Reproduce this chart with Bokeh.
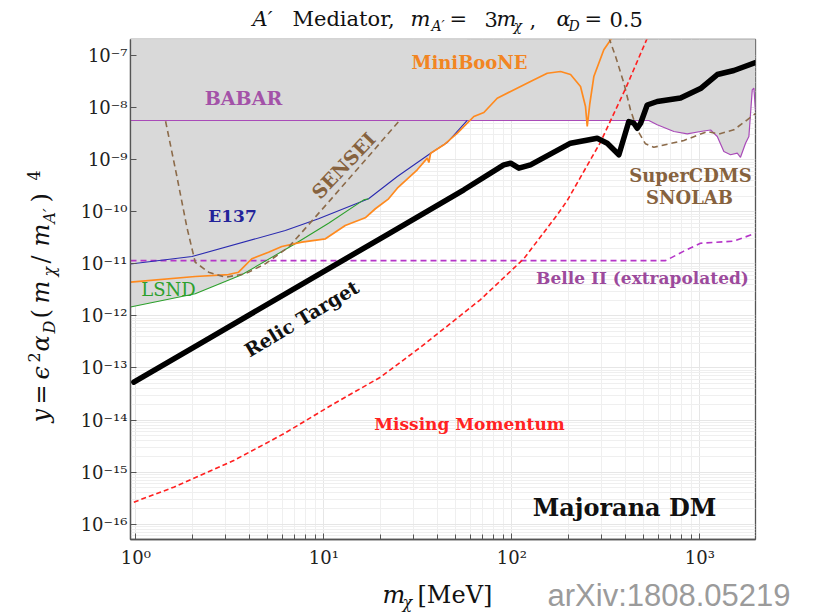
from bokeh.plotting import figure
from bokeh.models import FixedTicker, CustomJSTickFormatter, Label, Range1d
from bokeh.embed import file_html
from bokeh.resources import INLINE

# ---------------- data (m_chi in MeV, y) ----------------
relic_x = [0.976, 2.34, 22.1, 55.6, 90.6, 98.5, 109.0, 125.7, 205.3, 284.5, 321.6, 371.0,
           419.0, 445.6, 464.5, 484.1, 524.8, 593.3, 789.3, 1008, 1238, 1517, 1977]
relic_y = [5.32e-14, 3.36e-13, 3.77e-11, 2.64e-10, 7.96e-10, 8.55e-10, 6.85e-10, 7.96e-10,
           2.07e-9, 2.58e-9, 2.07e-9, 1.24e-9, 5.40e-9, 5.01e-9, 4.01e-9, 5.01e-9, 1.12e-8,
           1.31e-8, 1.53e-8, 2.32e-8, 4.31e-8, 5.15e-8, 7.34e-8]

missing_x = [0.976, 1.59, 3.32, 6.12, 11.3, 20.0, 32.7, 53.4, 68.2, 115.8, 174.3, 197.1,
             296.4, 402.7, 527]
missing_y = [2.64e-16, 5.12e-16, 1.67e-15, 5.43e-15, 2.05e-14, 6.64e-14, 2.50e-13, 1.02e-12,
             2.06e-12, 1.25e-11, 8.7e-11, 1.64e-10, 2.18e-9, 2.32e-8, 2.22e-7]

babar_x = [0.937, 535.6, 593.3, 727.8, 857.4, 1008, 1141, 1238, 1342, 1456, 1581, 1645,
           1750, 1823, 1900, 1938, 1977]
babar_y = [5.65e-9, 5.65e-9, 4.67e-9, 3.47e-9, 3.13e-9, 3.47e-9, 3.71e-9, 2.78e-9, 1.43e-9,
           1.24e-9, 1.33e-9, 1.11e-9, 2.07e-9, 2.78e-9, 2.19e-8, 2.36e-8, 8.8e-9]

e137_x = [0.937, 1.99, 6.24, 9.37, 17.3, 24.6, 37.0, 45.3, 57.9]
e137_y = [9.9e-12, 1.38e-11, 4.36e-11, 7.31e-11, 1.77e-10, 4.75e-10, 1.33e-9, 2.13e-9, 5.65e-9]

lsnd_x = [0.937, 2.07, 3.66, 7.04, 10.6, 16.3, 17.3]
lsnd_y = [1.48e-12, 2.65e-12, 6.14e-12, 2.42e-11, 6.02e-11, 1.69e-10, 1.77e-10]

miniboone_x = [0.937, 2.07, 3.11, 3.52, 4.14, 5.08, 5.98, 7.64, 10.2, 13.0, 16.6, 18.8, 22.1,
               24.6, 31.4, 35.5, 36.2, 37.0, 43.5, 51.3, 62.8, 71.0, 83.6, 98.5, 125.7, 154.3,
               181.6, 205.3, 231.9, 246.5, 251.8, 260.0, 273.0, 308.5, 345.0]
miniboone_y = [4.43e-12, 5.70e-12, 6.22e-12, 6.89e-12, 1.25e-11, 1.67e-11, 2.15e-11, 2.60e-11,
               3.02e-11, 5.43e-11, 7.64e-11, 1.14e-10, 1.77e-10, 2.83e-10, 6.38e-10, 1.07e-9,
               8.8e-10, 1.33e-9, 1.93e-9, 3.22e-9, 6.74e-9, 8.04e-9, 1.51e-8, 2.04e-8, 3.17e-8,
               4.57e-8, 4.93e-8, 4.31e-8, 2.54e-8, 1.05e-8, 4.33e-9, 1.21e-8, 3.95e-8, 1.29e-7,
               2.32e-7]

sensei_x = [1.44, 1.65, 1.87, 2.07, 2.44, 2.99, 3.82, 4.88, 6.49, 7.52, 10.85, 17.0, 25.0]
sensei_y = [5.47e-9, 4.96e-10, 4.98e-11, 1.07e-11, 6.89e-12, 5.52e-12, 6.42e-12, 1.0e-11,
            2.08e-11, 3.77e-11, 1.69e-10, 1.08e-9, 5.40e-9]

supercdms_x = [328.0, 356.3, 394.5, 427.6, 464.5, 514.0, 568.9, 822.5, 1095, 1262, 1517, 1786, 1977]
supercdms_y = [2.22e-7, 9.6e-8, 2.94e-8, 9.06e-9, 3.74e-9, 2.01e-9, 1.73e-9, 2.33e-9, 3.47e-9,
               3.10e-9, 3.74e-9, 5.82e-9, 7.69e-9]

belle_x = [0.937, 657.1, 822.5, 1008, 1517, 1977]
belle_y = [1.15e-11, 1.15e-11, 1.75e-11, 2.48e-11, 2.72e-11, 3.86e-11]

x_major_ticks = [1, 10, 100, 1000]
x_minor_ticks = [2, 3, 4, 5, 6, 7, 8, 9, 20, 30, 40, 50, 60, 70, 80, 90,
                 200, 300, 400, 500, 600, 700, 800, 900, 2000]
y_major_ticks = [1e-16, 1e-15, 1e-14, 1e-13, 1e-12, 1e-11, 1e-10, 1e-9, 1e-8, 1e-7]
y_minor_ticks = [k * 10.0 ** e for e in range(-17, -6) for k in range(2, 10)]

EXCL_TOP = 1e-5
GRAY = "#d9d9d9"
SERIF = "DejaVu Serif"
W, H = 816, 615

p = figure(width=W, height=H, x_axis_type="log", y_axis_type="log",
           x_range=Range1d(0.937, 1977), y_range=Range1d(5.07e-17, 2.03e-7),
           output_backend="svg", toolbar_location=None,
           min_border_left=130, min_border_right=W - 755, min_border_top=39,
           min_border_bottom=H - 539)

p.outline_line_color = "#555555"
p.outline_line_width = 1.3
p.background_fill_color = "white"
p.border_fill_color = "white"

for ax in (p.xaxis[0], p.yaxis[0]):
    ax.axis_line_color = "#555555"
    ax.axis_line_width = 1.3
    ax.major_tick_line_color = "#555555"
    ax.minor_tick_line_color = "#555555"
    ax.major_tick_in = 6
    ax.major_tick_out = 0
    ax.minor_tick_in = 5
    ax.minor_tick_out = 0
    ax.major_label_text_font = SERIF
    ax.major_label_text_font_size = "18px"
    ax.major_label_text_color = "#222222"

p.xaxis[0].ticker = FixedTicker(ticks=x_major_ticks, minor_ticks=x_minor_ticks)
p.yaxis[0].ticker = FixedTicker(ticks=y_major_ticks, minor_ticks=y_minor_ticks)
p.yaxis[0].minor_tick_line_color = None
p.xaxis[0].major_label_standoff = 7
p.yaxis[0].major_label_standoff = 3

fmt_code = """
const sup = {"-":"\u207b","0":"\u2070","1":"\u00b9","2":"\u00b2","3":"\u00b3","4":"\u2074",
             "5":"\u2075","6":"\u2076","7":"\u2077","8":"\u2078","9":"\u2079"};
const e = Math.round(Math.log10(tick));
return "10" + String(e).split("").map(c => sup[c]).join("");
"""
p.xaxis[0].formatter = CustomJSTickFormatter(code=fmt_code)
p.yaxis[0].formatter = CustomJSTickFormatter(code=fmt_code)

for g in (p.xgrid[0], p.ygrid[0]):
    g.grid_line_color = "#e6e6e6"
    g.grid_line_width = 1
    g.minor_grid_line_color = "#efefef"
    g.minor_grid_line_width = 1
p.xgrid[0].ticker = p.xaxis[0].ticker
p.ygrid[0].ticker = p.yaxis[0].ticker

# excluded (shaded) regions
for xs, ys in ((babar_x, babar_y), (e137_x, e137_y), (lsnd_x, lsnd_y), (miniboone_x, miniboone_y)):
    p.varea(x=xs, y1=ys, y2=EXCL_TOP, fill_color=GRAY)

# lines
p.line(belle_x, belle_y, line_color="#b535c8", line_width=1.6, line_dash="6 4")
p.line(babar_x, babar_y, line_color="#a94bb8", line_width=1.2)
p.line(e137_x, e137_y, line_color="#2b2bb0", line_width=1.1)
p.line(lsnd_x, lsnd_y, line_color="#2ca02c", line_width=1.1)
p.line(miniboone_x, miniboone_y, line_color="#ff8a1e", line_width=1.7)
p.line(sensei_x, sensei_y, line_color="#8c6b4a", line_width=1.6, line_dash="6 4")
p.line(supercdms_x, supercdms_y, line_color="#8c6b4a", line_width=1.6, line_dash="6 4")
p.line(missing_x, missing_y, line_color="#ff2020", line_width=1.6, line_dash="5 3")
p.line(relic_x, relic_y, line_color="black", line_width=5.5, line_join="round", line_cap="round")


def txt(fig, text, px, py, size, color="#111111", style="normal", align="left",
        baseline="alphabetic", angle=0, font=SERIF, units="canvas"):
    fig.add_layout(Label(x=px, y=py, x_units=units, y_units=units, text=text,
                         text_font=font, text_font_size=f"{size}px", text_color=color,
                         text_font_style=style, text_align=align, text_baseline=baseline,
                         angle=angle, angle_units="deg"))


# in-plot labels (canvas pixel positions)
txt(p, "BABAR", 243, 97, 19, "#a352a8", "bold", "center", "middle")
txt(p, "MiniBooNE", 469, 62, 18, "#f28522", "bold", "center", "middle")
txt(p, "E137", 232, 215, 17, "#23239a", "bold", "center", "middle")
txt(p, "LSND", 168, 289, 18, "#2ca02c", "normal", "center", "middle")
txt(p, "SENSEI", 343, 165, 19, "#86623e", "bold", "center", "middle", angle=46.5)
txt(p, "Relic Target", 301, 318, 19, "#111111", "bold", "center", "middle", angle=31)
txt(p, "SuperCDMS", 690, 175, 18, "#86623e", "bold", "center", "middle")
txt(p, "SNOLAB", 689, 197, 18, "#86623e", "bold", "center", "middle")
txt(p, "Belle II (extrapolated)", 642, 277, 17, "#9c4a9c", "bold", "center", "middle")
txt(p, "Missing Momentum", 469, 423, 17, "#ff2222", "bold", "center", "middle")
txt(p, "Majorana DM", 624, 507, 24, "#111111", "bold", "center", "middle")

# transparent overlay figure (separate root) for the texts outside the plot frame
t = figure(width=W, height=H, x_range=Range1d(0, W), y_range=Range1d(H, 0),
           output_backend="svg", toolbar_location=None,
           x_axis_location=None, y_axis_location=None, min_border=0)
t.grid.visible = False
t.outline_line_color = None
t.background_fill_color = None
t.border_fill_color = None
t.margin = (-H, 0, 0, 0)

SHIFT = 0.4  # renderer places the alphabetic baseline ~0.4 em lower than requested


def flat(text, px, baseline_y, size, **kw):
    """Horizontal piece: left edge px, baseline at baseline_y (page pixels)."""
    txt(t, text, px, baseline_y - SHIFT * size, size, units="data", **kw)


def vert(text, baseline_x, bottom_y, size, **kw):
    """Rotated piece reading upward: baseline at baseline_x, starting at bottom_y."""
    txt(t, text, baseline_x - SHIFT * size, bottom_y, size, angle=90, units="data", **kw)


# title
flat("A\u2032", 252, 27, 21, style="italic")
flat("Mediator,", 292, 27, 21)
flat("m", 410, 27, 21, style="italic")
flat("A\u2032", 431, 31, 14, style="italic")
flat("=", 449, 27, 21)
flat("3", 484, 27, 21)
flat("m", 496, 27, 21, style="italic")
flat("\u03c7", 513, 31, 14, style="italic")
flat(",", 529, 27, 21)
flat("\u03b1", 556, 27, 21, style="italic")
flat("D", 568, 31, 14, style="italic")
flat("=", 584, 27, 21)
flat("0.5", 609, 27, 21)

# x axis label
flat("m", 382, 604, 24, style="italic")
flat("\u03c7", 402, 608, 16, style="italic")
flat("[MeV]", 417, 604, 24)

# y axis label (rotated, reads bottom to top)
vert("y", 50, 422, 24, style="italic")
vert("=", 50, 404, 24)
vert("\u03f5", 50, 379, 24, style="italic")
vert("2", 40, 362, 16)
vert("\u03b1", 50, 351, 24, style="italic")
vert("D", 55, 333, 16, style="italic")
vert("(", 50, 318, 24)
vert("m", 50, 303, 24, style="italic")
vert("\u03c7", 55, 276, 16, style="italic")
vert("/", 50, 263, 24)
vert("m", 50, 246, 24, style="italic")
vert("A\u2032", 55, 223, 16, style="italic")
vert(")", 50, 202, 24)
vert("4", 40, 180, 16)

# source note
flat("arXiv:1808.05219", 547, 607, 31, color="#9b9b9b", font="Liberation Sans")

open("out.html", "w").write(file_html([p, t], INLINE))
